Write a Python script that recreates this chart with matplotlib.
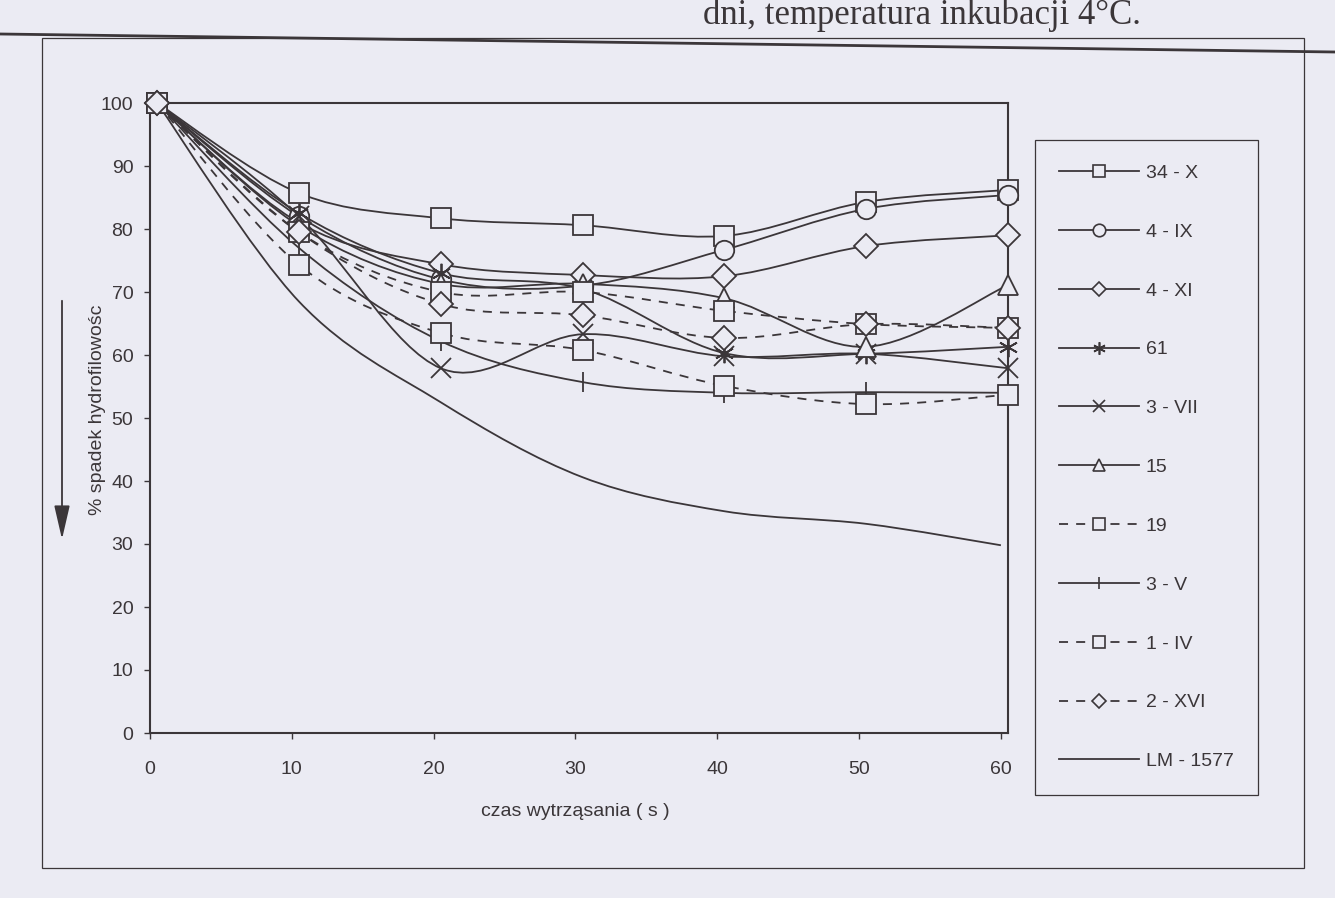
import numpy as np
import matplotlib.pyplot as plt
from matplotlib.path import Path
from matplotlib.patches import PathPatch, Rectangle
from matplotlib.lines import Line2D

plt.rcParams['font.family'] = ['Liberation Sans', 'DejaVu Sans']

# ---- data (corrected for the tilt of the page)
x = [0.5, 10.5, 20.5, 30.5, 40.5, 50.5, 60.5]
x_lm = [0.5, 10.5, 20.5, 30.5, 40.5, 50.5, 60]

v_34_x = [100, 85.7, 81.7, 80.6, 78.9, 84.3, 86.2]
v_4_ix = [100, 82.0, 72.0, 71.0, 76.7, 83.2, 85.4]
v_4_xi = [100, 81.0, 74.4, 72.7, 72.5, 77.3, 79.0]
v_61 = [100, 82.5, 73.0, 70.5, 60.3, 60.2, 61.3]
v_3_vii = [100, 82.0, 57.9, 63.3, 59.8, 60.2, 57.9]
v_15 = [100, 80.5, 71.3, 71.3, 69.0, 61.3, 71.1]
v_19 = [100, 79.5, 70.0, 70.0, 67.0, 64.9, 64.3]
v_3_v = [100, 77.0, 62.2, 55.7, 54.0, 54.1, 54.0]
v_1_iv = [100, 74.3, 63.5, 60.8, 55.1, 52.2, 53.7]
v_2_xvi = [100, 79.5, 68.1, 66.3, 62.7, 64.9, 64.3]
v_lm = [100, 68.5, 52.5, 40.6, 35.2, 33.2, 29.8]

labels = ["34 - X", "4 - IX", "4 - XI", "61", "3 - VII", "15", "19",
          "3 - V", "1 - IV", "2 - XVI", "LM - 1577"]
xticks = [0, 10, 20, 30, 40, 50, 60]
yticks = [0, 10, 20, 30, 40, 50, 60, 70, 80, 90, 100]

BG = "#ebebf3"
INK = "#3b3639"
DASH = (0, (5, 4.5))

series = [
    (x, v_34_x, "s", "-"),
    (x, v_4_ix, "o", "-"),
    (x, v_4_xi, "D", "-"),
    (x, v_61, (6, 2, 0), "-"),
    (x, v_3_vii, "x", "-"),
    (x, v_15, "^", "-"),
    (x, v_19, "s", DASH),
    (x, v_3_v, "|", "-"),
    (x, v_1_iv, "s", DASH),
    (x, v_2_xvi, "D", DASH),
    (x_lm, v_lm, None, "-"),
]


def smooth_path(xs, ys):
    # smoothed curve through the points, like the spreadsheet "smoothed line"
    pts = np.column_stack([xs, ys]).astype(float)
    n = len(pts)
    verts = [pts[0]]
    codes = [Path.MOVETO]
    for i in range(n - 1):
        p0 = pts[max(i - 1, 0)]
        p1 = pts[i]
        p2 = pts[i + 1]
        p3 = pts[min(i + 2, n - 1)]
        verts += [p1 + (p2 - p0) / 6, p2 - (p3 - p1) / 6, p2]
        codes += [Path.CURVE4] * 3
    return Path(verts, codes)


fig = plt.figure(figsize=(13.35, 8.98), dpi=100, facecolor=BG)
ax = fig.add_axes([150 / 1335, 1 - 733 / 898, 858 / 1335, 630 / 898])
ax.set_facecolor(BG)

handles = []
for (xs, ys, mk, ls), lab in zip(series, labels):
    ax.add_patch(PathPatch(smooth_path(xs, ys), fill=False, edgecolor=INK,
                           lw=1.3, linestyle=ls, zorder=2))
    if mk is not None:
        ax.plot(xs, ys, linestyle="none", marker=mk, ms=14 if mk != "D" else 12,
                mfc=BG, mec=INK, mew=1.3, zorder=3, clip_on=False)
    handles.append(Line2D([], [], color=INK, lw=1.3, linestyle=ls, marker=mk,
                          ms=9 if mk != "D" else 7.5, mfc=BG, mec=INK, mew=1.2))

ax.set_xlim(0, 60.5)
ax.set_ylim(0, 100)
ax.set_xticks(xticks)
ax.set_yticks(yticks)
ax.tick_params(direction="out", length=4, width=1, colors=INK, labelsize=14,
               labelcolor=INK)
ax.tick_params(axis="x", pad=16)
ax.tick_params(axis="y", pad=8)
for sp in ax.spines.values():
    sp.set_color(INK)
    sp.set_linewidth(1.5)

leg = ax.legend(handles, labels, loc="upper left",
                bbox_to_anchor=(1035 / 1335, 1 - 140 / 898),
                bbox_transform=fig.transFigure, fontsize=14, frameon=True,
                fancybox=False, edgecolor=INK, facecolor=BG, framealpha=1,
                handlelength=4.1, handletextpad=0.35, labelspacing=2.12,
                borderpad=1.25, borderaxespad=0)
leg.get_frame().set_linewidth(0.9)
for t in leg.get_texts():
    t.set_color(INK)

fig.text(575 / 1335, 1 - 812 / 898, "czas wytrząsania ( s )", ha="center",
         va="center", fontsize=14, color=INK)
fig.text(97 / 1335, 1 - 410 / 898, "% spadek hydrofilowośc", rotation=90,
         ha="center", va="center", fontsize=14, color=INK)
fig.add_artist(plt.Annotation(
    "", xy=(62 / 1335, 1 - 542 / 898), xytext=(62 / 1335, 1 - 298 / 898),
    xycoords="figure fraction",
    arrowprops=dict(arrowstyle="-|>,head_length=1.3,head_width=0.3",
                    mutation_scale=16, lw=1.3, color=INK)))

# scanned page: cut caption and chart border
fig.text(703 / 1335, 1 - 24 / 898, "dni, temperatura inkubacji 4°C.",
         family=["Liberation Serif", "DejaVu Serif"], fontsize=25, color=INK,
         va="baseline")
fig.add_artist(Rectangle((42 / 1335, 1 - 868 / 898), 1262 / 1335, 830 / 898,
                         transform=fig.transFigure, fill=False, edgecolor=INK,
                         lw=0.9))
fig.add_artist(Line2D([0, 1], [1 - 34 / 898, 1 - 52 / 898],
                      transform=fig.transFigure, color=INK, lw=2))

fig.savefig("out.png", dpi=100, facecolor=BG)
